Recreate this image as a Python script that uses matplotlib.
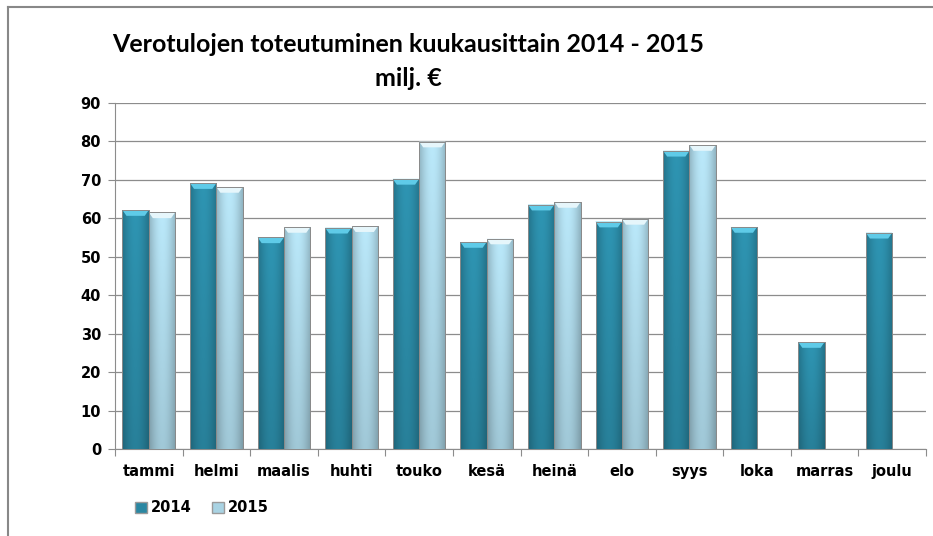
import numpy as np
import matplotlib
matplotlib.use("Agg")
import matplotlib.pyplot as plt
from matplotlib.patches import Polygon, Patch
from matplotlib.lines import Line2D
from matplotlib.colors import to_rgb

months = ["tammi", "helmi", "maalis", "huhti", "touko", "kesä", "heinä", "elo", "syys", "loka", "marras", "joulu"]
values_2014 = [62.1, 69.1, 55.0, 57.5, 70.2, 53.8, 63.5, 59.1, 77.5, 57.7, 27.8, 56.2]
values_2015 = [61.5, 68.1, 57.7, 57.9, 79.9, 54.7, 64.2, 59.8, 79.0, None, None, None]
series_names = ["2014", "2015"]
yticks = [0, 10, 20, 30, 40, 50, 60, 70, 80, 90]

fig = plt.figure(figsize=(9.33, 5.36), dpi=100)
ax = fig.add_axes([115/933, 1-449/536, (926-115)/933, (449-102.7)/536])

x = np.arange(len(months))
w = 0.39

def grad_bar(xc, h, base, top_light):
    bars = ax.bar(xc, h, width=w, color=base, edgecolor="#9a9a9a", linewidth=0.6, zorder=3)
    p = bars[0]
    x0, x1 = xc - w/2, xc + w/2
    nx, ny = 40, 40
    hx = np.linspace(0, 1, nx)
    horiz = 0.80 + 0.28 * np.sin(np.pi * (hx * 0.9 + 0.05))
    vy = np.linspace(0, 1, ny)[:, None]
    vert = 0.88 + 0.14 * vy
    fac = horiz[None, :] * vert
    img = np.zeros((ny, nx, 3))
    bc = np.array(to_rgb(base))
    for k in range(3):
        img[:, :, k] = np.clip(bc[k] * fac, 0, 1)
    im = ax.imshow(img, extent=[x0, x1, 0, h], origin="lower", aspect="auto", zorder=3.5, interpolation="bilinear")
    im.set_clip_path(p)
    b = 1.5
    d = 0.06
    ax.add_patch(Polygon([[x0, h], [x1, h], [x1 - d, h - b], [x0 + d, h - b]], closed=True,
                         facecolor=top_light, edgecolor="none", zorder=4))
    ax.add_patch(Polygon([[x0, h], [x1, h], [x1, 0], [x0, 0]], closed=True, fill=False,
                         edgecolor="#8a8a8a", linewidth=0.7, zorder=4.5))

for i in range(len(months)):
    if values_2014[i] is not None:
        grad_bar(x[i] - w/2, values_2014[i], "#2a87a2", "#5fcbe8")
    if values_2015[i] is not None:
        grad_bar(x[i] + w/2, values_2015[i], "#a9d3e3", "#e6f6fb")

ax.set_xlim(-0.5, len(months) - 0.5)
ax.set_ylim(0, 90)
ax.set_yticks(yticks)
ax.yaxis.grid(True, color="#8c8c8c", linewidth=0.9, zorder=0)
ax.set_axisbelow(True)
for s in ["top", "right"]:
    ax.spines[s].set_visible(False)
ax.spines["left"].set_color("#8c8c8c")
ax.spines["bottom"].set_color("#8c8c8c")
ax.tick_params(axis="y", length=5, color="#8c8c8c", labelsize=10.5, pad=5)
ax.set_xticks(np.arange(-0.5, len(months)))
ax.set_xticklabels([])
ax.set_xticks(x, minor=True)
ax.set_xticklabels(months, minor=True)
ax.tick_params(axis="x", which="major", length=5, color="#8c8c8c")
ax.tick_params(axis="x", which="minor", length=0, labelsize=10.5, pad=11)
for lbl in ax.get_yticklabels() + ax.get_xticklabels(minor=True):
    lbl.set_fontweight("bold")
    lbl.set_family("DejaVu Sans")

fig.text(408/933, 1-45/536, "Verotulojen toteutuminen kuukausittain 2014 - 2015", ha="center", va="center",
         fontsize=18, fontweight="bold", family=["Lato", "DejaVu Sans"])
fig.text(408/933, 1-79/536, "milj. €", ha="center", va="center",
         fontsize=18, fontweight="bold", family=["Lato", "DejaVu Sans"])

handles = [Patch(facecolor="#2a87a2", edgecolor="#9a9a9a"), Patch(facecolor="#a9d3e3", edgecolor="#9a9a9a")]
fig.legend(handles, series_names, loc="center left", bbox_to_anchor=(122/933, 1-508/536), ncol=2,
           frameon=False, handlelength=0.8, handleheight=0.8, handletextpad=0.3, columnspacing=1.4,
           prop={"weight": "bold", "size": 10.5, "family": "DejaVu Sans"})

fig.add_artist(Line2D([8/933, 1.0], [1-7/536, 1-7/536], color="#888888", linewidth=1.5, transform=fig.transFigure))
fig.add_artist(Line2D([8/933, 8/933], [1-7/536, 0.0], color="#888888", linewidth=1.5, transform=fig.transFigure))

fig.savefig("out.png", dpi=100)
